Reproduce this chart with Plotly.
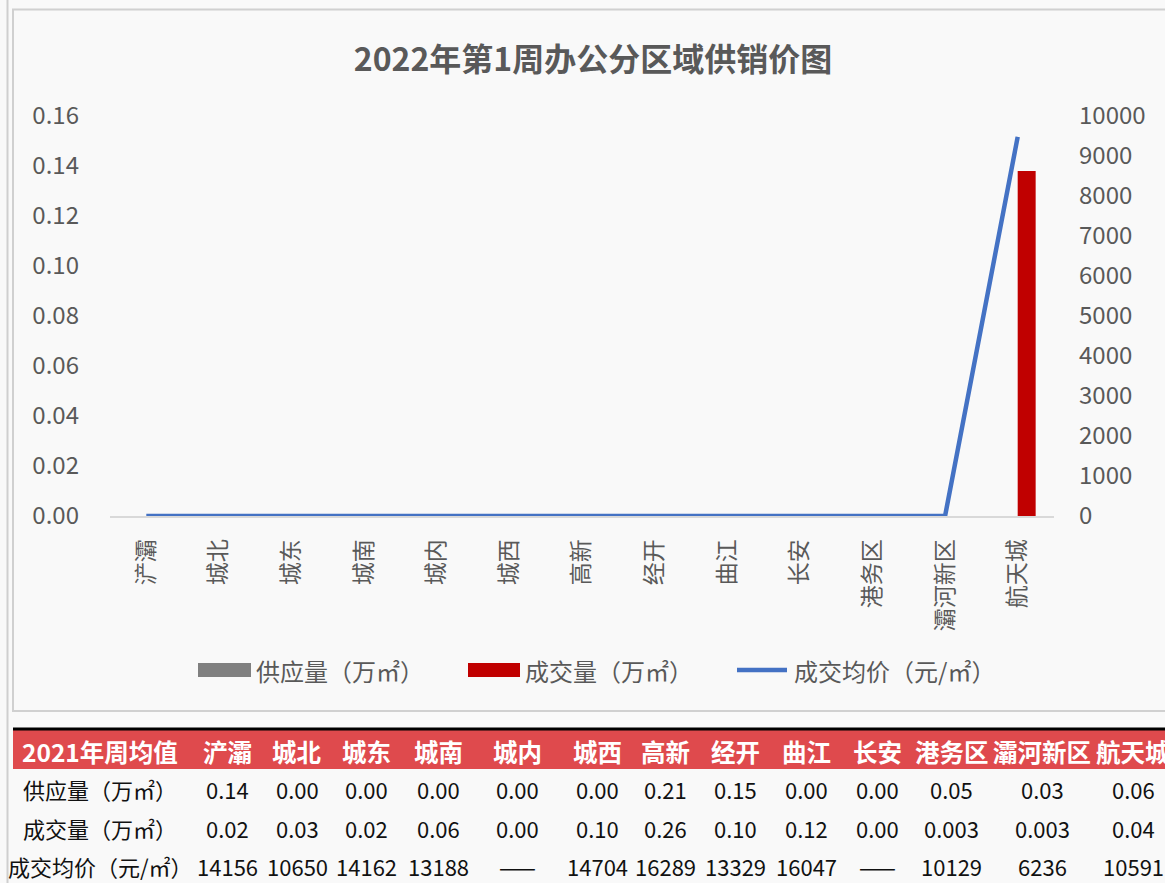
import plotly.graph_objects as go

# ---------------- data ----------------
categories = ["浐灞", "城北", "城东", "城南", "城内", "城西", "高新", "经开",
              "曲江", "长安", "港务区", "灞河新区", "航天城"]
supply_2022w1 = [0, 0, 0, 0, 0, 0, 0, 0, 0, 0, 0, 0, 0]          # 供应量（万㎡）
deal_2022w1 = [0, 0, 0, 0, 0, 0, 0, 0, 0, 0, 0, 0, 0.138]        # 成交量（万㎡）
price_2022w1 = [0, 0, 0, 0, 0, 0, 0, 0, 0, 0, 0, 0, 9480]        # 成交均价（元/㎡）

series_names = ["供应量（万㎡）", "成交量（万㎡）", "成交均价（元/㎡）"]
chart_title = "2022年第1周办公分区域供销价图"

table_corner = "2021年周均值"
table_row_labels = ["供应量（万㎡）", "成交量（万㎡）", "成交均价（元/㎡）"]
supply_2021 = ["0.14", "0.00", "0.00", "0.00", "0.00", "0.00", "0.21", "0.15",
               "0.00", "0.00", "0.05", "0.03", "0.06"]
deal_2021 = ["0.02", "0.03", "0.02", "0.06", "0.00", "0.10", "0.26", "0.10",
             "0.12", "0.00", "0.003", "0.003", "0.04"]
price_2021 = ["14156", "10650", "14162", "13188", "——", "14704", "16289", "13329",
              "16047", "——", "10129", "6236", "10591"]

# ---------------- layout helpers ----------------
W, H = 1165, 883
FONT = "Noto Sans CJK SC"
GREY_TXT = "#595959"
BG = "#f9f9f9"


def px(x):
    return x / W


def py(y):
    return 1 - y / H


fig = go.Figure()

fig.add_trace(go.Bar(x=categories, y=supply_2022w1, name=series_names[0],
                     marker=dict(color="#808080", line=dict(width=0)),
                     showlegend=False))
fig.add_trace(go.Bar(x=categories, y=deal_2022w1, name=series_names[1],
                     marker=dict(color="#c00000", line=dict(width=0)),
                     showlegend=False))
fig.add_trace(go.Scatter(x=categories, y=price_2022w1, name=series_names[2],
                         mode="lines", yaxis="y2",
                         line=dict(color="#4472c4", width=4.5),
                         showlegend=False))

shapes = []
annotations = []

# page / chart frame
shapes.append(dict(type="line", xref="paper", yref="paper",
                   x0=px(7.5), x1=px(7.5), y0=0, y1=1,
                   line=dict(color="#cfcfcf", width=2)))
shapes.append(dict(type="rect", xref="paper", yref="paper",
                   x0=px(13), x1=px(1175), y0=py(711), y1=py(9.5),
                   line=dict(color="#d0d0d0", width=2), fillcolor=BG,
                   layer="below"))

# custom legend
leg_y = 670
shapes.append(dict(type="rect", xref="paper", yref="paper",
                   x0=px(198), x1=px(251), y0=py(677), y1=py(663),
                   line=dict(width=0), fillcolor="#808080"))
shapes.append(dict(type="rect", xref="paper", yref="paper",
                   x0=px(468), x1=px(520), y0=py(677), y1=py(663),
                   line=dict(width=0), fillcolor="#c00000"))
shapes.append(dict(type="line", xref="paper", yref="paper",
                   x0=px(737), x1=px(787), y0=py(leg_y), y1=py(leg_y),
                   line=dict(color="#4472c4", width=4.5)))
for name, x0 in zip(series_names, [254, 523, 792]):
    annotations.append(dict(text=name, xref="paper", yref="paper",
                            x=px(x0), y=py(leg_y), xanchor="left",
                            yanchor="middle", showarrow=False,
                            font=dict(family=FONT, size=24, color=GREY_TXT)))

# table
shapes.append(dict(type="rect", xref="paper", yref="paper",
                   x0=px(13), x1=px(1175), y0=py(769), y1=py(730),
                   line=dict(width=0), fillcolor="#df4a4d"))
shapes.append(dict(type="line", xref="paper", yref="paper",
                   x0=px(13), x1=px(1175), y0=py(729), y1=py(729),
                   line=dict(color="#000000", width=3)))

col_x = [100, 227, 297, 366, 438, 517, 597, 665, 735, 806, 877, 952, 1042, 1133]
row_y = [751, 789, 828, 866]

header_cells = [table_corner] + categories
for x, t in zip(col_x, header_cells):
    annotations.append(dict(text="<b>" + t + "</b>", xref="paper", yref="paper",
                            x=px(x), y=py(row_y[0]), xanchor="center",
                            yanchor="middle", showarrow=False,
                            font=dict(family=FONT, size=24.5, color="#ffffff")))
for r, (lab, vals) in enumerate(zip(table_row_labels,
                                    [supply_2021, deal_2021, price_2021])):
    cells = [lab] + vals
    for x, t in zip(col_x, cells):
        annotations.append(dict(text=t, xref="paper", yref="paper",
                                x=px(x), y=py(row_y[r + 1]), xanchor="center",
                                yanchor="middle", showarrow=False,
                                font=dict(family=FONT, size=22, color="#111111")))

fig.update_layout(
    template="none",
    width=W, height=H,
    margin=dict(l=0, r=0, t=0, b=0, autoexpand=False),
    paper_bgcolor=BG, plot_bgcolor="rgba(0,0,0,0)",
    font=dict(family=FONT, color=GREY_TXT),
    title=dict(text="<b>" + chart_title + "</b>", x=px(593), y=py(60),
               xanchor="center", yanchor="middle", automargin=False,
               font=dict(family=FONT, size=32, color=GREY_TXT)),
    barmode="group", bargap=0.505, bargroupgap=0,
    xaxis=dict(domain=[px(110), px(1054)], type="category", automargin=False,
               showgrid=False, showline=True, linecolor="#d9d9d9", linewidth=2,
               zeroline=False,
               tickangle=-90, ticks="", ticklabelstandoff=12,
               tickfont=dict(family=FONT, size=23, color=GREY_TXT)),
    yaxis=dict(domain=[1 - 516 / H, 1 - 116 / H], range=[0, 0.16], dtick=0.02,
               tickformat=".2f", showgrid=False, zeroline=False, showline=False,
               automargin=False, ticks="", ticklabelstandoff=30,
               tickfont=dict(family=FONT, size=24, color=GREY_TXT)),
    yaxis2=dict(overlaying="y", side="right", anchor="x", range=[0, 10000],
                dtick=1000, tickformat="d", showgrid=False, zeroline=False,
                showline=False, automargin=False,
                ticks="", ticklabelstandoff=24,
                tickfont=dict(family=FONT, size=24, color=GREY_TXT)),
    shapes=shapes, annotations=annotations,
)

fig.write_html("out.html",
               config={"displayModeBar": False},
               post_script="document.body.style.margin='0';"
                           "document.body.style.overflow='hidden';")
